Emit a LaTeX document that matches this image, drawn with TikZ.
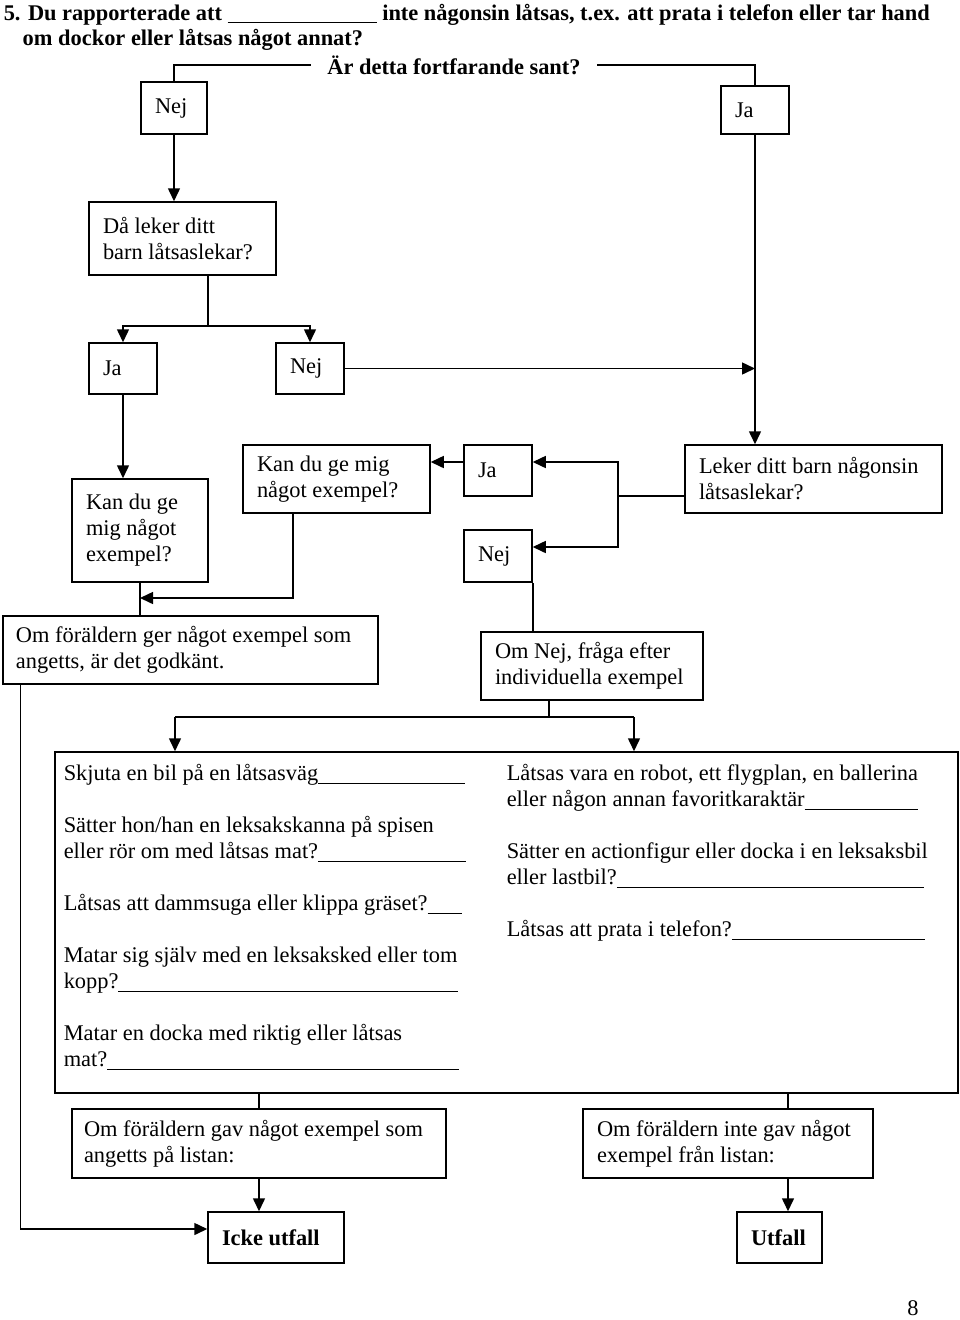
\documentclass[tikz,border=0pt]{standalone}
\usepackage{fontspec}
\setmainfont{Liberation Serif}
\usetikzlibrary{arrows.meta}
\newcommand{\brod}{\fontsize{22.4}{26}\selectfont}
\tikzstyle{ruta}=[draw, line width=1.5pt, align=flush left, inner xsep=14pt, inner ysep=0pt, font=\brod]
\tikzstyle{pil}=[-{Triangle[length=13pt,width=12pt]}]
\newcommand{\ruta}{\node[ruta]}
\newcommand{\blank}[1]{\rule[-3pt]{#1}{0.9pt}}

\begin{document}
\begin{tikzpicture}[x=1pt, y=-1pt, line width=1.5pt]
            \useasboundingbox (0,0) rectangle (960,1320);
            % rubrik
            \node[anchor=base west, inner sep=0pt, font=\brod\bfseries] (rubrik1) at (3,20) {5. Du rapporterade att \blank{149pt} inte någonsin låtsas, t.ex. att prata i telefon eller tar hand};
            \node[anchor=base west, inner sep=0pt, font=\brod\bfseries] (rubrik2) at (22,45) {om dockor eller låtsas något annat?};
            \node[anchor=base, inner xsep=16pt, inner ysep=0pt, font=\brod\bfseries] (fraga) at (454,74) {Är detta fortfarande sant?};
            % rutor
            \ruta[text width=38pt, minimum height=52pt] (nej1) at (174,108) {Nej};
            \ruta[text width=40pt, minimum height=48pt] (ja1) at (755,110) {Ja};
            \ruta[text width=159pt, minimum height=73pt] (daleker) at (182.5,238.5) {Då leker ditt\\barn låtsaslekar?};
            \ruta[text width=40pt, minimum height=51pt] (ja2) at (123,368.5) {Ja};
            \ruta[text width=40pt, minimum height=51pt] (nej2) at (310,368.5) {Nej};
            \ruta[text width=108pt, minimum height=103pt] (kan1) at (140,530.5) {Kan du ge\\mig något\\exempel?};
            \ruta[text width=159pt, minimum height=68pt] (kan2) at (336.5,479) {Kan du ge mig\\något exempel?};
            \ruta[text width=40pt, minimum height=51pt] (ja3) at (498,470.5) {Ja};
            \ruta[text width=40pt, minimum height=52pt] (nej3) at (498,556) {Nej};
            \ruta[text width=229pt, minimum height=68pt] (leker) at (813.5,479) {Leker ditt barn någonsin\\låtsaslekar?};
            \ruta[text width=349pt, inner xsep=13pt, minimum height=68pt] (omger) at (190.5,650) {Om föräldern ger något exempel som\\angetts, är det godkänt.};
            \ruta[text width=194pt, minimum height=68pt] (omnej) at (592,666) {Om Nej, fråga efter\\individuella exempel};
            \ruta[minimum width=903pt, minimum height=341pt] (lista) at (506.5,922.5) {};
            \ruta[text width=350pt, inner xsep=12pt, minimum height=69pt] (omgav) at (259,1143.5) {Om föräldern gav något exempel som\\angetts på listan:};
            \ruta[text width=262pt, minimum height=69pt] (omintegav) at (728,1143.5) {Om föräldern inte gav något\\exempel från listan:};
            \ruta[text width=108pt, minimum height=51pt] (icke) at (276,1237.5) {\textbf{Icke utfall}};
            \ruta[text width=57pt, minimum height=51pt] (utfall) at (779.5,1237.5) {\textbf{Utfall}};
            % exempel i listan
            \node[anchor=north west, inner sep=0pt, align=flush left, font=\brod] (vanster) at (63,764) {Skjuta en bil på en låtsasväg\blank{147pt}\\[26pt]
                Sätter hon/han en leksakskanna på spisen\\eller rör om med låtsas mat?\blank{148pt}\\[26pt]
                Låtsas att dammsuga eller klippa gräset?\blank{34pt}\\[26pt]
                Matar sig själv med en leksaksked eller tom\\kopp?\blank{340pt}\\[26pt]
                Matar en docka med riktig eller låtsas\\mat?\blank{352pt}};
            \node[anchor=north west, inner sep=0pt, align=flush left, font=\brod] (hoger) at (506,764) {Låtsas vara en robot, ett flygplan, en ballerina\\eller någon annan favoritkaraktär\blank{113pt}\\[26pt]
                Sätter en actionfigur eller docka i en leksaksbil\\eller lastbil?\blank{307pt}\\[26pt]
                Låtsas att prata i telefon?\blank{193pt}};
            \node[anchor=base, inner sep=0pt, font=\brod] (sida) at (913,1315) {8};
            % pilar
            \coordinate (gren1) at (208,326);
            \coordinate (gren2) at (618,496);
            \coordinate (hopp) at (140,598);
            \coordinate (gren3) at (549,717);
            \coordinate (pilA) at (175,717);
            \coordinate (pilB) at (634,717);
            \coordinate (gren4) at (788,1143.5);
            \draw (fraga.west) -| (nej1.north);
            \draw (fraga.east) -| (ja1.north);
            \draw[pil] (nej1.south) -- (nej1.south |- daleker.north);
            \draw (gren1 |- daleker.south) -- (gren1);
            \draw[pil] (gren1) -| (ja2.north);
            \draw[pil] (gren1) -| (nej2.north);
            \draw[pil] (ja1.south) -- (ja1.south |- leker.north);
            \draw[pil] (nej2.east) -- (nej2.east -| ja1.south);
            \draw[pil] (ja2.south) -- (ja2.south |- kan1.north);
            \draw (leker.west |- gren2) -- (gren2);
            \draw[pil] (gren2) |- ([yshift=8.5pt]ja3.east);
            \draw[pil] (gren2) |- ([yshift=9pt]nej3.east);
            \draw[pil] ([yshift=8.5pt]ja3.west) -- ([yshift=8.5pt]ja3.west -| kan2.east);
            \draw (kan1.south) -- (kan1.south |- omger.north);
            \draw[pil] ([xshift=-43.5pt]kan2.south) |- (hopp);
            \draw (nej3.south east) -- (nej3.south east |- omnej.north);
            \draw (gren3 |- omnej.south) -- (gren3);
            \draw (pilA) -- (pilB);
            \draw[pil] (pilA) -- (pilA |- lista.north);
            \draw[pil] (pilB) -- (pilB |- lista.north);
            \draw[pil] ([xshift=18pt]omger.south west) |- ([yshift=8.5pt]icke.west);
            \draw (omgav.north |- lista.south) -- (omgav.north);
            \draw[pil] (omgav.south) -- (omgav.south |- icke.north);
            \draw (gren4 |- lista.south) -- (gren4 |- omintegav.north);
            \draw[pil] (gren4 |- omintegav.south) -- (gren4 |- utfall.north);
        \end{tikzpicture}
\end{document}
